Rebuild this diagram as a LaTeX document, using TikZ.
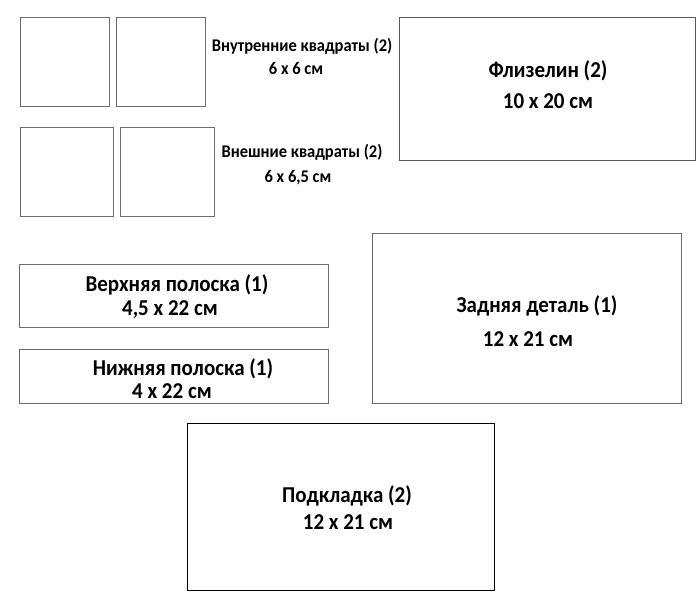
\documentclass[tikz,border=0pt]{standalone}
\usepackage{fontspec}
\setmainfont{Carlito}
\begin{document}
\begin{tikzpicture}[x=1pt,y=-1pt,
  piece/.style={draw=gray!85!black, line width=1pt, inner sep=0pt, anchor=north west},
  darkpiece/.style={draw=black, line width=1pt, inner sep=0pt, anchor=north west},
  big/.style={font=\bfseries\fontsize{21}{24}\selectfont, inner sep=0pt, yscale=1.08},
  small/.style={font=\bfseries\fontsize{16.5}{19}\selectfont, inner sep=0pt, yscale=1.08}]
\useasboundingbox[fill=white] (0,0) rectangle (700,613);
% inner squares
\node[piece, minimum width=89pt, minimum height=89pt] (in1) at (20,17) {};
\node[piece, minimum width=89pt, minimum height=89pt] (in2) at (116,17) {};
\node[small] (intxt) at (302,46) {Внутренние квадраты (2)};
\node[small] (insz) at (296,68) {6 x 6 см};
% outer squares
\node[piece, minimum width=93pt, minimum height=89pt] (out1) at (20,127) {};
\node[piece, minimum width=94pt, minimum height=89pt] (out2) at (120,127) {};
\node[small] (outtxt) at (302,152) {Внешние квадраты (2)};
\node[small] (outsz) at (298,178) {6 x 6,5 см};
% interfacing
\node[darkpiece, draw=gray!70!black, minimum width=296pt, minimum height=143pt] (fliz) at (399,17) {};
\node[big] (fliztxt) at (548,71) {Флизелин (2)};
\node[big] (flizsz) at (548,101) {10 x 20 см};
% top strip
\node[piece, minimum width=309pt, minimum height=63pt] (top) at (19,264) {};
\node[big] (toptxt) at (177,285) {Верхняя полоска (1)};
\node[big] (topsz) at (170,310) {4,5 x 22 см};
% bottom strip
\node[piece, minimum width=309pt, minimum height=54pt] (bot) at (19,349) {};
\node[big] (bottxt) at (183,369) {Нижняя полоска (1)};
\node[big] (botsz) at (172,391) {4 x 22 см};
% back piece
\node[piece, minimum width=309pt, minimum height=170pt] (back) at (372,233) {};
\node[big] (backtxt) at (537,306) {Задняя деталь (1)};
\node[big] (backsz) at (528,339) {12 x 21 см};
% lining
\node[darkpiece, minimum width=307pt, minimum height=167pt] (lin) at (187,423) {};
\node[big] (lintxt) at (347,496) {Подкладка (2)};
\node[big] (linsz) at (348,522) {12 x 21 см};
\end{tikzpicture}
\end{document}
